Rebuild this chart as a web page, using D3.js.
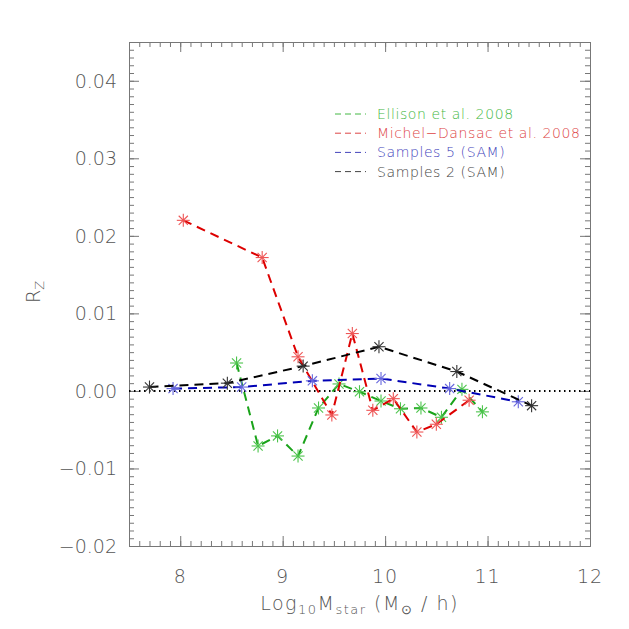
<!DOCTYPE html>
<html>
<head>
<meta charset="utf-8">
<script src="https://cdn.jsdelivr.net/npm/d3@7"></script>
<style>
  body { margin: 0; background: #fff; }
  text { font-family: "DejaVu Sans", sans-serif; font-weight: 200; }
  .axis path, .axis line { stroke: #777; }
</style>
</head>
<body>
<svg id="chart"></svg>
<script>
// series
const ellisonX = [8.55, 8.76, 8.95, 9.15, 9.35, 9.55, 9.75, 9.96, 10.15, 10.35, 10.55, 10.75, 10.95];
const ellisonY = [0.0036, -0.0071, -0.0058, -0.0084, -0.0022, 0.0009, -0.0001, -0.0013, -0.0023, -0.0022, -0.0034, 0.0002, -0.0027];
const michelX = [8.03, 8.80, 9.15, 9.48, 9.68, 9.88, 10.08, 10.31, 10.50, 10.82];
const michelY = [0.0220, 0.0172, 0.0044, -0.0031, 0.0074, -0.0025, -0.0010, -0.0053, -0.0043, -0.0012];
const samples5X = [7.93, 8.60, 9.29, 9.96, 10.63, 11.30];
const samples5Y = [0.0003, 0.0005, 0.0013, 0.0016, 0.0003, -0.0014];
const samples2X = [7.70, 8.46, 9.20, 9.94, 10.70, 11.43];
const samples2Y = [0.0005, 0.0010, 0.0032, 0.0057, 0.0025, -0.0019];

const xTicks = [8, 9, 10, 11, 12];
const yTicks = [-0.02, -0.01, 0.00, 0.01, 0.02, 0.03, 0.04];

const series = [
  { name: 'Ellison et al. 2008', xs: ellisonX, ys: ellisonY, line: '#1aa31a', mark: '#4cc44c', text: '#44b844' },
  { name: 'Michel\u2212Dansac et al. 2008', xs: michelX, ys: michelY, line: '#dd0000', mark: '#ee5555', text: '#dd4444' },
  { name: 'Samples 5 (SAM)', xs: samples5X, ys: samples5Y, line: '#0000b4', mark: '#6666dd', text: '#4444bb' },
  { name: 'Samples 2 (SAM)', xs: samples2X, ys: samples2Y, line: '#000000', mark: '#333333', text: '#444444' }
];

const W = 629, H = 629;
const margin = { top: 42, left: 129, right: 39, bottom: 83 };
const width = W - margin.left - margin.right;
const height = H - margin.top - margin.bottom;

const svg = d3.select('#chart').attr('width', W).attr('height', H);
const chart = svg.append('g').attr('transform', `translate(${margin.left},${margin.top})`);

const xScale = d3.scaleLinear().domain([7.5, 12]).range([0, width]);
const yScale = d3.scaleLinear().domain([-0.02, 0.045]).range([height, 0]);

// minor ticks
const xMinor = d3.range(7.5, 12.0001, 0.1);
const yMinor = d3.range(-0.02, 0.0450001, 0.001);

chart.append('g').attr('class', 'axis')
    .attr('transform', `translate(0,${height})`)
    .call(d3.axisTop(xScale).tickValues(xMinor).tickSize(5).tickFormat('').tickSizeOuter(0));
chart.append('g').attr('class', 'axis')
    .call(d3.axisBottom(xScale).tickValues(xMinor).tickSize(5).tickFormat('').tickSizeOuter(0));
chart.append('g').attr('class', 'axis')
    .call(d3.axisRight(yScale).tickValues(yMinor).tickSize(5).tickFormat('').tickSizeOuter(0));
chart.append('g').attr('class', 'axis')
    .attr('transform', `translate(${width},0)`)
    .call(d3.axisLeft(yScale).tickValues(yMinor).tickSize(5).tickFormat('').tickSizeOuter(0));

// major ticks
chart.append('g').attr('class', 'axis')
    .attr('transform', `translate(0,${height})`)
    .call(d3.axisTop(xScale).tickValues(xTicks).tickSize(10).tickFormat('').tickSizeOuter(0));
chart.append('g').attr('class', 'axis')
    .call(d3.axisBottom(xScale).tickValues(xTicks).tickSize(10).tickFormat('').tickSizeOuter(0));
chart.append('g').attr('class', 'axis')
    .call(d3.axisRight(yScale).tickValues(yTicks).tickSize(10).tickFormat('').tickSizeOuter(0));
chart.append('g').attr('class', 'axis')
    .attr('transform', `translate(${width},0)`)
    .call(d3.axisLeft(yScale).tickValues(yTicks).tickSize(10).tickFormat('').tickSizeOuter(0));

chart.selectAll('.axis path').attr('stroke', '#777');

// tick labels
chart.append('g').selectAll('text').data(xTicks).join('text')
    .attr('x', d => xScale(d))
    .attr('y', height + 37)
    .attr('text-anchor', 'middle')
    .attr('font-size', 19)
    .attr('letter-spacing', 1)
    .attr('fill', '#555')
    .text(d => d);

chart.append('g').selectAll('text').data(yTicks).join('text')
    .attr('x', -12)
    .attr('y', d => yScale(d))
    .attr('dy', '0.36em')
    .attr('text-anchor', 'end')
    .attr('font-size', 19)
    .attr('fill', '#555')
    .text(d => d3.format('.2f')(d).replace('-', '\u2212'));

// axis titles
const xt = svg.append('text')
    .attr('x', margin.left + width / 2)
    .attr('y', 610)
    .attr('text-anchor', 'middle')
    .attr('font-size', 19)
    .attr('letter-spacing', 1.5)
    .attr('fill', '#555');
xt.append('tspan').text('Log');
xt.append('tspan').attr('font-size', 13).attr('dy', 4).text('10');
xt.append('tspan').attr('dy', -4).text('M');
xt.append('tspan').attr('font-size', 13).attr('dy', 4).text('star');
xt.append('tspan').attr('dy', -4).text(' (M');
xt.append('tspan').attr('font-size', 13).attr('dy', 4).text('\u2299');
xt.append('tspan').attr('dy', -4).text('  /  h)');

const yt = svg.append('text')
    .attr('transform', 'translate(40,303) rotate(-90)')
    .attr('font-size', 19)
    .attr('fill', '#555');
yt.append('tspan').text('R');
yt.append('tspan').attr('font-size', 13).attr('dy', 4).text('Z');

// zero line
chart.append('line')
    .attr('x1', 0).attr('x2', width)
    .attr('y1', yScale(0)).attr('y2', yScale(0))
    .attr('stroke', '#000')
    .attr('stroke-width', 2)
    .attr('stroke-dasharray', '1.5,3.5');

const line = d3.line()
    .x(d => xScale(d[0]))
    .y(d => yScale(d[1]));

// asterisk marker
const r = 6.5;
function star(g, color) {
  [0, 45, 90, 135].forEach(a => {
    const rad = a * Math.PI / 180;
    g.append('line')
        .attr('x1', -r * Math.cos(rad)).attr('y1', -r * Math.sin(rad))
        .attr('x2', r * Math.cos(rad)).attr('y2', r * Math.sin(rad))
        .attr('stroke', color).attr('stroke-width', 1.1);
  });
}

series.forEach(s => {
  const pts = s.xs.map((x, i) => [x, s.ys[i]]);
  chart.append('path')
      .datum(pts)
      .attr('d', line)
      .attr('fill', 'none')
      .attr('stroke', s.line)
      .attr('stroke-width', 2)
      .attr('stroke-dasharray', '9,6');
  pts.forEach(p => {
    const g = chart.append('g').attr('transform', `translate(${xScale(p[0])},${yScale(p[1])})`);
    star(g, s.mark);
  });
});

// legend
const legend = svg.append('g');
series.forEach((s, i) => {
  const y = 114 + i * 19.2;
  legend.append('line')
      .attr('x1', 335).attr('x2', 366)
      .attr('y1', y).attr('y2', y)
      .attr('stroke', s.text)
      .attr('stroke-width', 1)
      .attr('stroke-dasharray', '6,4');
  legend.append('text')
      .attr('x', 377).attr('y', y + 5)
      .attr('font-size', 14)
      .attr('letter-spacing', 0.6)
      .attr('fill', s.text)
      .text(s.name);
});
</script>
</body>
</html>
